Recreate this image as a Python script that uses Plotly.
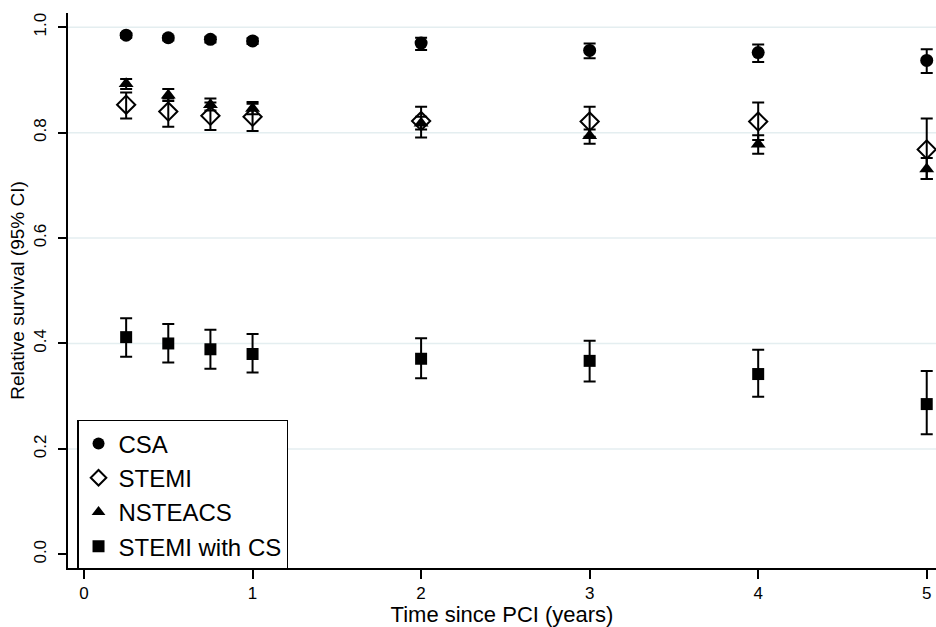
import plotly.graph_objects as go

times = [0.25, 0.5, 0.75, 1, 2, 3, 4, 5]

csa_est = [0.985, 0.980, 0.977, 0.974, 0.970, 0.956, 0.952, 0.937]
csa_lo = [0.980, 0.975, 0.971, 0.968, 0.957, 0.941, 0.934, 0.913]
csa_hi = [0.989, 0.984, 0.982, 0.979, 0.980, 0.969, 0.967, 0.958]

stemi_est = [0.853, 0.840, 0.832, 0.830, 0.822, 0.821, 0.821, 0.768]
stemi_lo = [0.827, 0.811, 0.805, 0.803, 0.791, 0.792, 0.786, 0.712]
stemi_hi = [0.876, 0.865, 0.857, 0.855, 0.849, 0.849, 0.857, 0.827]

nste_est = [0.893, 0.871, 0.853, 0.846, 0.818, 0.794, 0.778, 0.731]
nste_lo = [0.883, 0.860, 0.842, 0.835, 0.806, 0.779, 0.760, 0.712]
nste_hi = [0.902, 0.883, 0.865, 0.858, 0.830, 0.806, 0.795, 0.752]

cs_est = [0.412, 0.400, 0.389, 0.380, 0.371, 0.367, 0.342, 0.285]
cs_lo = [0.375, 0.364, 0.352, 0.345, 0.334, 0.328, 0.299, 0.228]
cs_hi = [0.448, 0.437, 0.426, 0.418, 0.410, 0.405, 0.388, 0.348]

series = [
    ("CSA", csa_est, csa_lo, csa_hi, dict(symbol="circle", size=13, color="black")),
    ("STEMI", stemi_est, stemi_lo, stemi_hi,
     dict(symbol="diamond-open", size=14, color="black", line=dict(width=2, color="black"))),
    ("NSTEACS", nste_est, nste_lo, nste_hi, dict(symbol="triangle-up", size=13, color="black")),
    ("STEMI with CS", cs_est, cs_lo, cs_hi, dict(symbol="square", size=12, color="black")),
]

grid_vals = [0.2, 0.4, 0.6, 0.8, 1.0]
y_ticks = [0.0, 0.2, 0.4, 0.6, 0.8, 1.0]
x_ticks = [0, 1, 2, 3, 4, 5]

fig = go.Figure()
for name, est, lo, hi, marker in series:
    fig.add_trace(go.Scatter(
        x=times, y=est, mode="markers", name=name, marker=marker,
        error_y=dict(type="data", symmetric=False,
                     array=[h - e for h, e in zip(hi, est)],
                     arrayminus=[e - l for e, l in zip(est, lo)],
                     color="black", thickness=2, width=6),
    ))

shapes = [dict(type="line", xref="paper", x0=0, x1=1, yref="y", y0=g, y1=g,
               line=dict(color="#e4eef0", width=1.5), layer="below") for g in grid_vals]

fig.update_layout(
    width=936, height=627,
    margin=dict(l=68, r=0, t=13, b=59),
    paper_bgcolor="white", plot_bgcolor="white",
    font=dict(family="Liberation Sans, Arial, sans-serif", color="black", size=17),
    showlegend=True,
    legend=dict(x=0.0104, y=0.2667, xanchor="left", yanchor="top",
                bgcolor="white", bordercolor="black", borderwidth=1.5,
                font=dict(size=24), tracegroupgap=0, itemsizing="constant",
                entrywidth=190, entrywidthmode="pixels"),
    shapes=shapes,
    xaxis=dict(range=[-0.095, 5.055], tickvals=x_ticks, showgrid=False, zeroline=False,
               showline=True, linecolor="black", linewidth=1.5,
               ticks="outside", ticklen=9, tickwidth=1.5, tickcolor="black",
               tickfont=dict(size=17),
               title=dict(text="Time since PCI (years)", font=dict(size=22), standoff=6)),
    yaxis=dict(range=[-0.026, 1.027], tickvals=y_ticks, tickformat=".1f", showgrid=False,
               zeroline=False, showline=True, linecolor="black", linewidth=1.5,
               ticks="outside", ticklen=8, tickwidth=1.5, tickcolor="black",
               tickangle=-90, tickfont=dict(size=17), ticklabelstandoff=5,
               title=dict(text="Relative survival (95% CI)", font=dict(size=19), standoff=2)),
)

fig.write_html("out.html")
